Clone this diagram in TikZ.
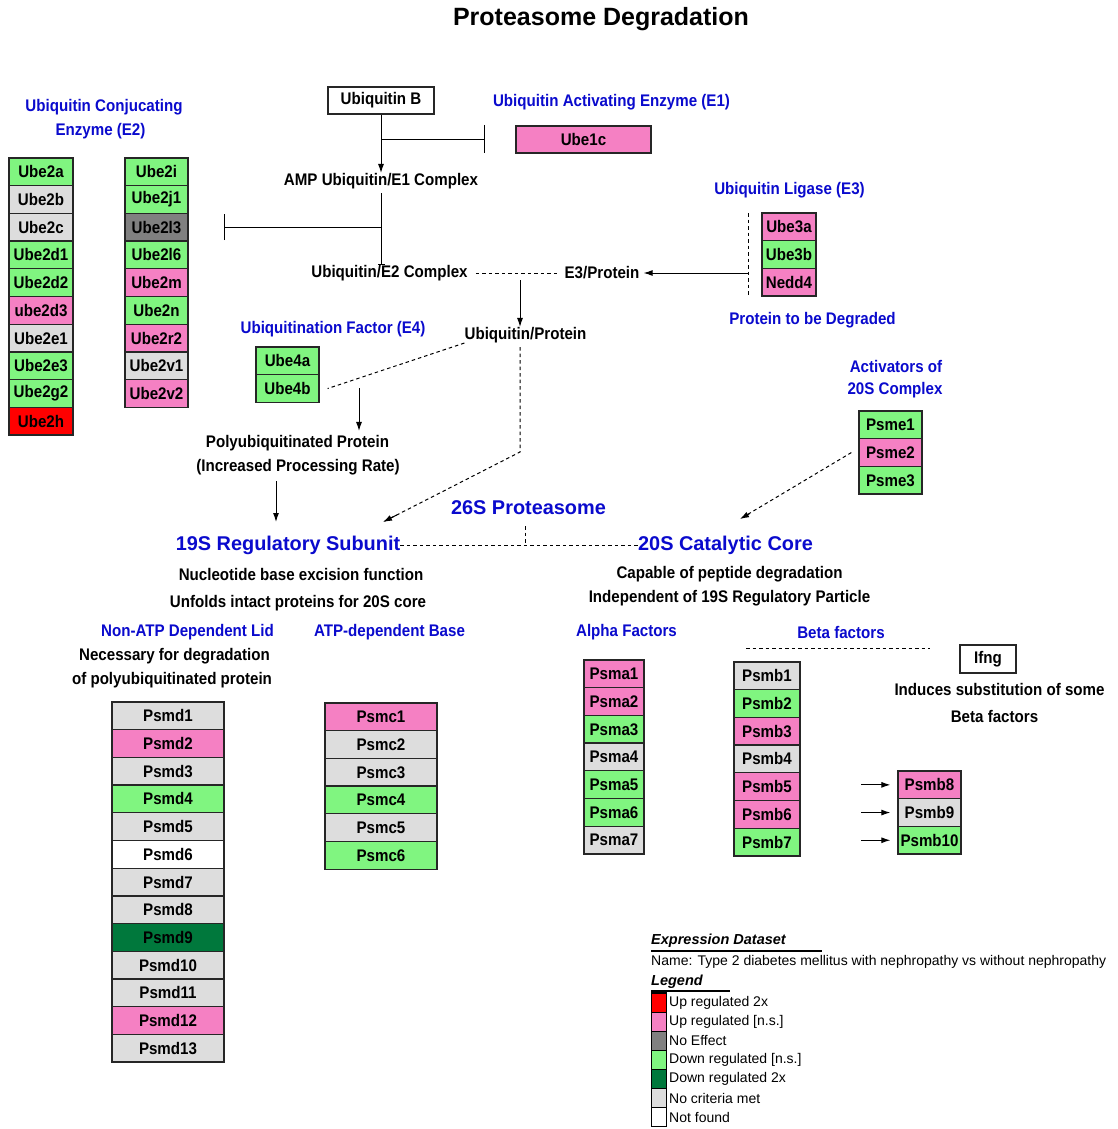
\documentclass[tikz,border=0pt]{standalone}
\usepackage{fontspec}
\setmainfont{Liberation Sans}
\newfontfamily\narrowfam[FakeStretch=0.9]{Liberation Sans}
\usetikzlibrary{arrows.meta,calc}
\definecolor{hblue}{RGB}{10,10,205}
\definecolor{upA}{RGB}{255,0,0}
\definecolor{upN}{RGB}{245,128,195}
\definecolor{noE}{RGB}{128,128,128}
\definecolor{dnN}{RGB}{128,245,128}
\definecolor{dnA}{RGB}{0,120,60}
\definecolor{noC}{RGB}{221,221,221}
\definecolor{noF}{RGB}{255,255,255}
\newcommand\mylbl{\narrowfam\fontsize{16.8}{19}\selectfont\bfseries}
\newcommand\mybig{\fontsize{19.9}{23}\selectfont\bfseries}
\newcommand\mytitle{\fontsize{25}{30}\selectfont\bfseries}
\newcommand\mysmall{\fontsize{14}{16}\selectfont}
\newcommand\genecol[4]{%
  \foreach \g/\c [count=\i from 0] in {#4}{%
    \node[gene, fill=\c, minimum width=#2pt-#1pt] (\g) at ({(#1+#2)/2},{#3+(\i+0.5)*27.7}) {\g};
  }}
\tikzset{
  lab/.style={font=\mylbl, inner sep=0pt, anchor=center},
  blab/.style={lab, text=hblue},
  bigb/.style={lab, font=\mybig, text=hblue},
  gene/.style={draw=black!85, line width=1.3pt, inner sep=0pt, font=\mylbl, minimum height=27.7pt},
  plainbox/.style={draw=black!85, line width=1.3pt, inner sep=0pt, font=\mylbl},
  arr/.style={-{Latex[length=9pt,width=6pt]}, line width=1pt},
  inhib/.style={-{Bar[width=28pt,line width=1.2pt]}, line width=1pt},
  dsh/.style={dash pattern=on 3.5pt off 3pt, line width=1pt},
  legsq/.style={draw=black, line width=1.2pt, minimum width=15pt, minimum height=19.1pt, inner sep=0pt},
  legtxt/.style={font=\mysmall, inner sep=0pt, anchor=west}
}
\begin{document}
\begin{tikzpicture}[x=1pt,y=-1pt]
\fill[white] (0,0) rectangle (1117,1129);
\useasboundingbox (0,0) rectangle (1117,1129);

% title
\node[lab, font=\mytitle] (title) at (601,19) {Proteasome Degradation};

% headings
\node[blab] (e2h1) at (104,107) {Ubiquitin Conjucating};
\node[blab] (e2h2) at (100.5,131) {Enzyme (E2)};
\node[blab] (e1h) at (611.5,102) {Ubiquitin Activating Enzyme (E1)};
\node[blab] (e3h) at (789.5,190) {Ubiquitin Ligase (E3)};
\node[blab] (ptd) at (812.5,320) {Protein to be Degraded};
\node[blab] (e4h) at (333,329) {Ubiquitination Factor (E4)};
\node[blab] (act1) at (896,366) {Activators of};
\node[blab] (act2) at (895,390) {20S Complex};
\node[bigb] (p26) at (528.5,508) {26S Proteasome};
\node[bigb] (r19) at (288,545) {19S Regulatory Subunit};
\node[bigb] (c20) at (725.5,545) {20S Catalytic Core};
\node[blab] (lidh) at (187.5,632) {Non-ATP Dependent Lid};
\node[blab] (baseh) at (389.5,632) {ATP-dependent Base};
\node[blab] (alphah) at (626.5,632) {Alpha Factors};
\node[blab] (betah) at (841,632) {Beta factors};

% black labels
\node[lab] (amp) at (381,181) {AMP Ubiquitin/E1 Complex};
\node[lab] (e2c) at (389.5,273) {Ubiquitin/E2 Complex};
\node[lab] (e3p) at (602,273) {E3/Protein};
\node[lab] (ubp) at (525.5,335) {Ubiquitin/Protein};
\node[lab] (poly1) at (297.5,443) {Polyubiquitinated Protein};
\node[lab] (poly2) at (298,467) {(Increased Processing Rate)};
\node[lab] (nuc) at (301,574) {Nucleotide base excision function};
\node[lab] (unf) at (298,603) {Unfolds intact proteins for 20S core};
\node[lab] (cap) at (729.5,574) {Capable of peptide degradation};
\node[lab] (ind) at (729.5,598) {Independent of 19S Regulatory Particle};
\node[lab] (nec1) at (174.5,656) {Necessary for degradation};
\node[lab] (nec2) at (172,680) {of polyubiquitinated protein};
\node[lab] (ifn1) at (999.5,689) {Induces substitution of some};
\node[lab] (ifn2) at (994.5,716) {Beta factors};

% plain boxes
\node[plainbox, minimum width=106pt, minimum height=27pt] (ubb) at (381,100.5) {Ubiquitin B};
\node[plainbox, fill=upN, minimum width=135pt, minimum height=27pt] (Ube1c) at (583.5,139.5) {Ube1c};
\node[plainbox, minimum width=56pt, minimum height=28pt] (ifng) at (988,659) {Ifng};

% gene columns
\genecol{9}{73}{158}{Ube2a/dnN,Ube2b/noC,Ube2c/noC,Ube2d1/dnN,Ube2d2/dnN,ube2d3/upN,Ube2e1/noC,Ube2e3/dnN,Ube2g2/dnN,Ube2h/upA}
\genecol{125}{188}{158}{Ube2i/dnN,Ube2j1/dnN,Ube2l3/noE,Ube2l6/dnN,Ube2m/upN,Ube2n/dnN,Ube2r2/upN,Ube2v1/noC,Ube2v2/upN}
\genecol{762}{816}{213}{Ube3a/upN,Ube3b/dnN,Nedd4/upN}
\genecol{256}{319}{347}{Ube4a/dnN,Ube4b/dnN}
\genecol{859}{922}{411}{Psme1/dnN,Psme2/upN,Psme3/dnN}
\genecol{112}{224}{702}{Psmd1/noC,Psmd2/upN,Psmd3/noC,Psmd4/dnN,Psmd5/noC,Psmd6/noF,Psmd7/noC,Psmd8/noC,Psmd9/dnA,Psmd10/noC,Psmd11/noC,Psmd12/upN,Psmd13/noC}
\genecol{325}{437}{703}{Psmc1/upN,Psmc2/noC,Psmc3/noC,Psmc4/dnN,Psmc5/noC,Psmc6/dnN}
\genecol{584}{644}{660}{Psma1/upN,Psma2/upN,Psma3/dnN,Psma4/noC,Psma5/dnN,Psma6/dnN,Psma7/noC}
\genecol{734}{800}{662}{Psmb1/noC,Psmb2/dnN,Psmb3/upN,Psmb4/noC,Psmb5/upN,Psmb6/upN,Psmb7/dnN}
\genecol{898}{961}{771}{Psmb8/upN,Psmb9/noC,Psmb10/dnN}

% connectors
\draw[arr] (ubb.south) -- (ubb.south |- amp.north);
\coordinate (j1) at (382,139);
\coordinate (e1bar) at (485,139);
\draw[inhib] (j1) -- (e1bar);
\draw[line width=1pt, -{Bar[width=7pt,line width=1pt]}] ([yshift=-4pt]amp.south) -- (amp.south |- e2c.north);
\coordinate (j2) at (382,227);
\coordinate (e2bar) at (224,227);
\draw[line width=1pt, -{Bar[width=26pt,line width=1.2pt]}] (j2) -- (e2bar);
\draw[dsh] ([xshift=8pt]e2c.east) -- ([xshift=-7pt]e3p.west);
\coordinate (e3top) at (748,213);
\coordinate (e3bot) at (748,297);
\coordinate (e3mid) at (748,273);
\draw[dsh] (e3top) -- (e3bot);
\draw[arr] (e3mid) -- ([xshift=4pt]e3p.east);
\coordinate (m1) at (520,280);
\draw[arr] (m1) -- (m1 |- ubp.north);
\draw[dsh] (ubp.south west) -- ([xshift=8pt]Ube4b.east);
\coordinate (a4) at (359,388);
\draw[arr] (a4) -- ([yshift=4pt]a4 |- poly1.north);
\coordinate (a19a) at (276,522);
\draw[arr] ([yshift=-6pt]a19a |- poly2.south) -- (a19a);
\coordinate (u1) at (520,347);
\coordinate (u2) at (520,452);
\coordinate (a19b) at (383,522);
\draw[dsh] (u1) -- (u2) -- (a19b);
\draw[-{Latex[length=9pt,width=6pt]}, line width=1pt] ($(a19b)!0.1!(u2)$) -- (a19b);
\draw[dsh] (r19.east) -- (c20.west);
\coordinate (p26a) at (525,526);
\coordinate (p26b) at (525,545);
\draw[dsh] (p26a) -- (p26b);
\coordinate (a20) at (740,519);
\draw[dsh] ([xshift=-7pt]Psme2.west) -- (a20);
\draw[-{Latex[length=9pt,width=6pt]}, line width=1pt] ($(a20)!0.08!(Psme2.west)$) -- (a20);
\coordinate (bl1) at (746,648);
\coordinate (bl2) at (930,648);
\draw[dsh] (bl1) -- (bl2);
\foreach \t in {Psmb8,Psmb9,Psmb10}{
  \draw[arr] ([xshift=-36pt]\t.west) -- ([xshift=-7pt]\t.west);
}

% legend
\node[lab, font=\fontsize{14.5}{17}\selectfont\bfseries\itshape, anchor=west] (expd) at (651,941) {Expression Dataset};
\coordinate (ul1a) at (651,951);
\coordinate (ul1b) at (822,951);
\draw[line width=2pt] (ul1a) -- (ul1b);
\node[legtxt] (dsname) at (651,962) {Name: Type 2 diabetes mellitus with nephropathy vs without nephropathy};
\node[lab, font=\fontsize{14.5}{17}\selectfont\bfseries\itshape, anchor=west] (legh) at (651,982) {Legend};
\coordinate (ul2a) at (651,991);
\coordinate (ul2b) at (730,991);
\draw[line width=2pt] (ul2a) -- (ul2b);
\foreach \c/\t [count=\i from 0] in {upA/Up regulated 2x,upN/Up regulated [n.s.],noE/No Effect,dnN/Down regulated [n.s.],dnA/Down regulated 2x,noC/No criteria met,noF/Not found}{
  \node[legsq, fill=\c] (sq\i) at (659,{993+(\i+0.5)*19.1}) {};
  \node[legtxt] (lt\i) at (669,{993+(\i+0.5)*19.1}) {\t};
}
\end{tikzpicture}
\end{document}
